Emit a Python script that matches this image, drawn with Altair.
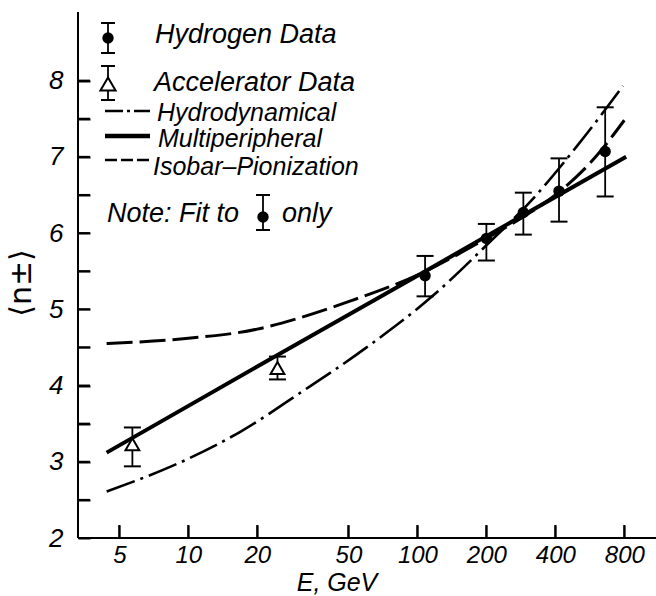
import math
import altair as alt
import pandas as pd

# ---- data ----
h_E = [108, 200, 290, 415, 660]
h_y = [5.44, 5.93, 6.27, 6.55, 7.07]
h_lo = [5.17, 5.64, 5.98, 6.15, 6.48]
h_hi = [5.70, 6.12, 6.53, 6.98, 7.65]

a_E = [5.7, 24.5]
a_y = [3.23, 4.23]
a_lo = [2.94, 4.08]
a_hi = [3.45, 4.38]

hydro_E = [4.4, 10, 17, 31, 60, 117, 200, 326, 500, 790]
hydro_y = [2.61, 3.04, 3.40, 3.91, 4.50, 5.18, 5.84, 6.48, 7.15, 7.93]

multi_E = [4.4, 20, 100, 200, 815]
multi_y = [3.12, 4.25, 5.44, 5.96, 7.00]

iso_E = [4.4, 10, 20, 30, 50, 100, 200, 300, 400, 600, 800]
iso_y = [4.55, 4.62, 4.74, 4.88, 5.10, 5.45, 5.93, 6.24, 6.50, 7.00, 7.48]

x_ticks = [5, 10, 20, 50, 100, 200, 400, 800]
y_ticks = [2, 2.5, 3, 3.5, 4, 4.5, 5, 5.5, 6, 6.5, 7, 7.5, 8]

X_DOMAIN = [3.3, 1100]
Y_DOMAIN = [2, 8.9]

W, H = 578, 526
FONT = "Liberation Sans"
YTICK_LEN, XTICK_LEN = 12, 13

xs = alt.Scale(type="log", domain=X_DOMAIN)
ys = alt.Scale(domain=Y_DOMAIN)

# axes moved inward by the tick length so that their ticks point into the plot
x_axis = alt.Axis(values=x_ticks, ticks=True, tickSize=XTICK_LEN, tickWidth=2,
                  tickColor="black", offset=-XTICK_LEN, domain=False,
                  grid=False, title=None, format="d",
                  labelFont=FONT, labelFontSize=24, labelFontStyle="italic",
                  labelColor="black", labelPadding=5,
                  labelFlush=False, labelOverlap=False)
y_axis = alt.Axis(values=y_ticks, ticks=True, tickSize=YTICK_LEN, tickWidth=2,
                  tickColor="black", offset=-YTICK_LEN, domain=False,
                  grid=False, title=None,
                  labelExpr="datum.value % 1 == 0 ? format(datum.value, 'd') : ''",
                  labelFont=FONT, labelFontSize=26, labelFontStyle="italic",
                  labelColor="black", labelPadding=15,
                  labelFlush=False, labelOverlap=False)

def curve(E, y, dash, width, axes=False):
    df = pd.DataFrame({"E": E, "y": y})
    m = alt.Chart(df).mark_line(color="black", strokeWidth=width,
                                interpolate="monotone",
                                **({"strokeDash": dash} if dash else {}))
    if axes:
        return m.encode(x=alt.X("E:Q", scale=xs, axis=x_axis),
                        y=alt.Y("y:Q", scale=ys, axis=y_axis))
    return m.encode(x=alt.X("E:Q", scale=xs), y=alt.Y("y:Q", scale=ys))

iso = curve(iso_E, iso_y, [26, 7], 3, axes=True)
hydro = curve(hydro_E, hydro_y, [30, 6, 3, 6], 2.6)
multi = curve(multi_E, multi_y, None, 4)

# extra inward tick marks through the scales (coincide with the axis ticks)
px_per_decade = W / math.log10(X_DOMAIN[1] / X_DOMAIN[0])
px_per_unit = H / (Y_DOMAIN[1] - Y_DOMAIN[0])
ytk_df = pd.DataFrame({"v": y_ticks[1:],
                       "e0": [X_DOMAIN[0]] * (len(y_ticks) - 1),
                       "e1": [X_DOMAIN[0] * 10 ** (YTICK_LEN / px_per_decade)] * (len(y_ticks) - 1)})
xtk_df = pd.DataFrame({"E": x_ticks,
                       "v0": [Y_DOMAIN[0]] * len(x_ticks),
                       "v1": [Y_DOMAIN[0] + XTICK_LEN / px_per_unit] * len(x_ticks)})
ytk = alt.Chart(ytk_df).mark_rule(color="black", strokeWidth=2).encode(
    y=alt.Y("v:Q", scale=ys), x=alt.X("e0:Q", scale=xs), x2="e1:Q")
xtk = alt.Chart(xtk_df).mark_rule(color="black", strokeWidth=2).encode(
    x=alt.X("E:Q", scale=xs), y=alt.Y("v0:Q", scale=ys), y2="v1:Q")

hdf = pd.DataFrame({"E": h_E, "y": h_y, "lo": h_lo, "hi": h_hi})
adf = pd.DataFrame({"E": a_E, "y": a_y, "lo": a_lo, "hi": a_hi})

def errbars(df):
    bar = alt.Chart(df).mark_rule(color="black", strokeWidth=1.8).encode(
        x=alt.X("E:Q", scale=xs), y=alt.Y("lo:Q", scale=ys), y2="hi:Q")
    top = alt.Chart(df).mark_tick(color="black", orient="horizontal", size=17,
                                  thickness=2, opacity=1).encode(
        x=alt.X("E:Q", scale=xs), y=alt.Y("hi:Q", scale=ys))
    bot = alt.Chart(df).mark_tick(color="black", orient="horizontal", size=17,
                                  thickness=2, opacity=1).encode(
        x=alt.X("E:Q", scale=xs), y=alt.Y("lo:Q", scale=ys))
    return [bar, top, bot]

hpts = alt.Chart(hdf).mark_circle(color="black", size=130, opacity=1).encode(
    x=alt.X("E:Q", scale=xs), y=alt.Y("y:Q", scale=ys))
apts = alt.Chart(adf).mark_point(shape="triangle-up", filled=True, fill="white",
                                 stroke="black", strokeWidth=2, size=190,
                                 opacity=1).encode(
    x=alt.X("E:Q", scale=xs), y=alt.Y("y:Q", scale=ys))

one = pd.DataFrame({"a": [0]})
OX, OY = 78, 12

# axis lines (the frame of the plot)
frame = [
    alt.Chart(one).mark_rule(color="black", strokeWidth=2).encode(
        x=alt.value(0), y=alt.value(0), y2=alt.value(H)),
    alt.Chart(one).mark_rule(color="black", strokeWidth=2).encode(
        x=alt.value(0), x2=alt.value(W), y=alt.value(H)),
]

def txt(s, x, y, size=27, angle=None, align="left", baseline="alphabetic",
        font=FONT, style="italic"):
    kw = dict(font=font, fontSize=size, fontStyle=style, color="black",
              align=align, baseline=baseline)
    if angle is not None:
        kw["angle"] = angle
    return alt.Chart(one).mark_text(**kw).encode(
        x=alt.value(x - OX), y=alt.value(y - OY), text=alt.value(s))

def hline(x1, x2, y, width, dash=None):
    kw = dict(color="black", strokeWidth=width)
    if dash:
        kw["strokeDash"] = dash
    return alt.Chart(one).mark_rule(**kw).encode(
        x=alt.value(x1 - OX), x2=alt.value(x2 - OX), y=alt.value(y - OY))

def vline(x, y1, y2, width=1.8):
    return alt.Chart(one).mark_rule(color="black", strokeWidth=width).encode(
        x=alt.value(x - OX), y=alt.value(y1 - OY), y2=alt.value(y2 - OY))

def sym_err(x, yc, y1, y2, kind):
    layers = [vline(x, y1, y2), hline(x - 7, x + 7, y1, 2), hline(x - 7, x + 7, y2, 2)]
    if kind == "circle":
        layers.append(alt.Chart(one).mark_circle(color="black", size=130, opacity=1).encode(
            x=alt.value(x - OX), y=alt.value(yc - OY)))
    else:
        layers.append(alt.Chart(one).mark_point(shape="triangle-up", filled=True,
                                                fill="white", stroke="black",
                                                strokeWidth=2, size=230, opacity=1).encode(
            x=alt.value(x - OX), y=alt.value(yc - OY)))
    return layers

legend = []
legend += sym_err(108, 38, 23, 53, "circle")
legend.append(txt("Hydrogen Data", 155, 43))
legend += sym_err(108, 84, 66, 100, "triangle")
legend.append(txt("Accelerator Data", 154, 91))
legend.append(hline(105, 150, 111, 2.4, [18, 4, 3, 4]))
legend.append(txt("Hydrodynamical", 157, 121, size=25))
legend.append(hline(105, 150, 136, 4.5))
legend.append(txt("Multiperipheral", 158, 147, size=25))
legend.append(hline(105, 150, 160, 2.4, [12, 4]))
legend.append(txt("Isobar–Pionization", 153, 175, size=25))
legend.append(txt("Note: Fit to", 107, 222))
legend += sym_err(263, 217, 195, 230, "circle")
legend.append(txt("only", 282, 222))

titles = [
    txt("E, GeV", 337, 583, size=25, align="center", baseline="middle"),
    txt("⟨n±⟩", 22, 283, size=30, angle=270, align="center", baseline="middle",
        font="DejaVu Sans", style="normal"),
]

chart = alt.layer(
    iso, hydro, multi,
    ytk, xtk, *frame,
    *errbars(hdf), *errbars(adf),
    hpts, apts,
    *legend, *titles,
).properties(
    width=W, height=H,
    autosize=alt.AutoSizeParams(type="none"),
    padding={"left": OX, "top": OY, "right": 0, "bottom": 596 - OY - H},
).configure_view(stroke=None)

chart.save("out.html", embed_options={"renderer": "svg", "actions": False})
